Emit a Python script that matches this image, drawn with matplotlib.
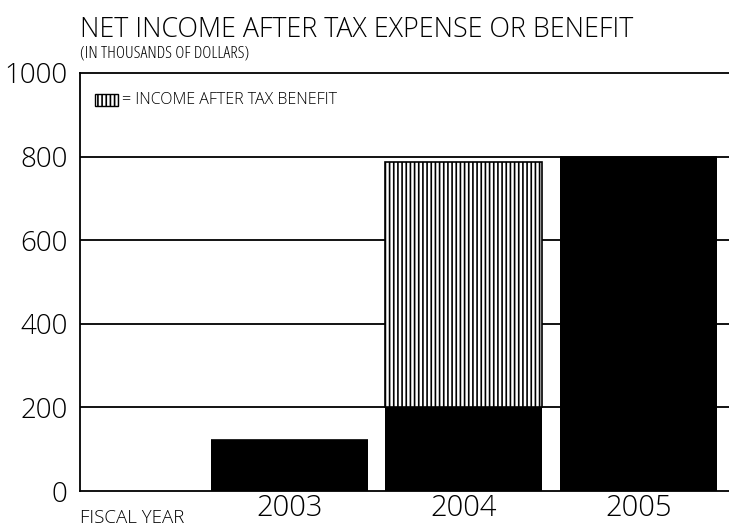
import matplotlib.pyplot as plt
import matplotlib as mpl
from matplotlib.patches import Rectangle

years = ["2003", "2004", "2005"]
income_after_tax_expense = [122, 200, 798]
income_after_tax_benefit = [0, 586, 0]
y_ticks = [0, 200, 400, 600, 800, 1000]

plt.rcParams["font.family"] = ["Open Sans", "DejaVu Sans"]
plt.rcParams["font.weight"] = 300
plt.rcParams["font.stretch"] = "normal"
mpl.rcParams["hatch.linewidth"] = 1.2

fig = plt.figure(figsize=(7.29, 5.27), dpi=100)
ax = fig.add_axes([80 / 729, 36 / 527, 649 / 729, 418 / 527])

x = [1, 2, 3]
ax.bar(x, income_after_tax_expense, width=0.9, color="black", zorder=3)
ax.bar(x, income_after_tax_benefit, width=0.9, bottom=income_after_tax_expense,
       color="white", edgecolor="black", hatch="||||", linewidth=1.2, zorder=3)

ax.set_xlim(-0.2, 3.52)
ax.set_ylim(0, 1000)
ax.set_yticks(y_ticks)
ax.set_yticklabels([str(v) for v in y_ticks], fontsize=20, color="black")
ax.set_xticks(x)
ax.set_xticklabels(years, fontsize=21, color="black")
ax.tick_params(axis="y", length=0, pad=9)
ax.tick_params(axis="x", length=0, pad=2)
for t in y_ticks[1:-1]:
    ax.axhline(t, color="black", linewidth=1.3, zorder=2)

ax.spines["right"].set_visible(False)
for s in ["left", "top", "bottom"]:
    ax.spines[s].set_linewidth(1.3)

fig.text(80 / 729, 1 - 30 / 527, "NET INCOME AFTER TAX EXPENSE OR BENEFIT",
         fontsize=19.3, va="center", ha="left")
fig.text(80 / 729, 1 - 54 / 527, "(IN THOUSANDS OF DOLLARS)",
         fontsize=12.5, fontstretch="condensed", va="center", ha="left")
fig.text(80 / 729, 1 - 518 / 527, "FISCAL YEAR", fontsize=13.5, va="center", ha="left")

# legend key
ax.add_patch(Rectangle((0.023, 0.922), 0.036, 0.027, transform=ax.transAxes,
                       facecolor="white", edgecolor="black", hatch="||||",
                       linewidth=1.0, zorder=4))
ax.text(0.064, 0.935, "= INCOME AFTER TAX BENEFIT", transform=ax.transAxes,
        fontsize=11.5, va="center", ha="left")

fig.savefig("out.png", dpi=100)
